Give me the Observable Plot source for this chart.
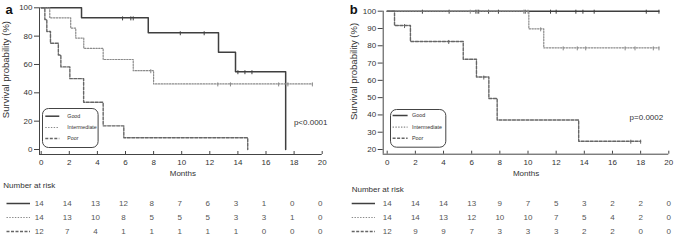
<!DOCTYPE html>
<html><head><meta charset="utf-8">
<script src="https://cdn.jsdelivr.net/npm/d3@7"></script>
<script src="https://cdn.jsdelivr.net/npm/@observablehq/plot@0.6"></script>
<style>
body{margin:0;background:#fff;font-family:"Liberation Sans",Arial,sans-serif;}
#root{position:relative;width:676px;height:245px;overflow:hidden;background:#fff;}
.abs{position:absolute;}
.nar{position:absolute;font-size:8px;color:#333;line-height:8px;white-space:nowrap;}
</style></head><body><div id="root"></div>
<script>
// ---------- data ----------
const groups = ["Good", "Intermediate", "Poor"];
const monthTicks = [0, 2, 4, 6, 8, 10, 12, 14, 16, 18, 20];
const survTicksA = [0, 20, 40, 60, 80, 100];
const survTicksB = [20, 30, 40, 50, 60, 70, 80, 90, 100];

// Panel a
const goodTimesA = [0, 2.87, 7.62, 12.62, 13.83, 17.4];
const goodSurvA  = [100, 92.9, 82.4, 68.7, 54.9, 0];
const goodCensA  = [5.79, 6.38, 6.55, 9.9, 11.6, 14.0, 14.5, 15.0];
const intTimesA  = [0, 0.61, 2.1, 2.46, 3.03, 4.41, 6.55, 8.0, 19.3];
const intSurvA   = [100, 92.9, 85.7, 78.6, 71.4, 63.5, 55.6, 46.3, 46.3];
const intCensA   = [7.8, 12.57, 13.47, 16.9, 17.56, 19.3];
const poorTimesA = [0, 0.26, 0.4, 0.66, 1.22, 1.4, 2.04, 3.02, 4.41, 5.88, 14.7];
const poorSurvA  = [100, 91.7, 83.3, 75, 66.7, 58.3, 50, 33.3, 16.7, 8.3, 0];
const poorCensA  = [];
const riskGoodA  = [14, 14, 13, 12, 8, 7, 6, 3, 1, 0, 0];
const riskIntA   = [14, 13, 10, 8, 5, 5, 5, 3, 3, 1, 0];
const riskPoorA  = [12, 7, 4, 1, 1, 1, 1, 1, 0, 0, 0];
const pTextA = "p<0.0001";

// Panel b
const goodTimesB = [0, 19.3];
const goodSurvB  = [100, 100];
const goodCensB  = [2.5, 4.4, 6.3, 6.5, 7.2, 7.9, 9.8, 11.6, 12.0, 13.4, 13.9, 14.7, 18.4, 19.3];
const intTimesB  = [0, 10.06, 11.12, 19.3];
const intSurvB   = [100, 89.8, 78.8, 78.8];
const intCensB   = [5.9, 6.4, 9.7, 10.0, 10.9, 12.5, 13.5, 14.1, 16.9, 17.6, 18.9, 19.3];
const poorTimesB = [0, 0.52, 1.65, 5.4, 6.34, 7.22, 7.81, 13.6, 18.0];
const poorSurvB  = [100, 91.7, 82.5, 72.2, 61.9, 49.5, 37.1, 24.8, 24.8];
const poorCensB  = [1.23, 4.37, 6.86, 17.3, 18.0];
const riskGoodB  = [14, 14, 14, 13, 9, 7, 5, 3, 2, 2, 0];
const riskIntB   = [14, 14, 13, 12, 10, 10, 7, 5, 4, 2, 0];
const riskPoorB  = [12, 9, 9, 7, 3, 3, 3, 2, 2, 0, 0];
const pTextB = "p=0.0002";

const xTitle = "Months";
const yTitle = "Survival probability (%)";
const riskTitle = "Number at risk";

// ---------- styles ----------
const styles = {
  Good: {stroke: "#3f3f3f", strokeWidth: 1.5},
  Intermediate: {stroke: "#8a8a8a", strokeWidth: 1.2, strokeDasharray: "1.4,1.4"},
  Poor: {stroke: "#666", strokeWidth: 1.4, strokeDasharray: "3,1.5"}
};
const censorSymbol = {draw(ctx) { ctx.moveTo(0, -1.5); ctx.lineTo(0, 2.5); }};

const root = document.getElementById("root");

function stepValue(times, surv, t) {
  let s = surv[0];
  for (let i = 0; i < times.length; i++) if (times[i] <= t) s = surv[i];
  return s;
}

function kmPanel(cfg) {
  const marks = [];
  marks.push(Plot.ruleY([cfg.yMin], {dy: cfg.insetB, stroke: "#444", strokeWidth: 1}));
  marks.push(Plot.ruleX([0], {dx: -cfg.insetL, stroke: "#444", strokeWidth: 1}));
  const innerH = cfg.height - cfg.marginTop - cfg.marginBottom;
  marks.push(Plot.ruleX(monthTicks, {insetTop: innerH - 3, stroke: "#444", strokeWidth: 1}));
  marks.push(Plot.axisX({ticks: monthTicks, tickSize: 0, tickPadding: 5, label: null, fontSize: 8}));
  marks.push(Plot.axisY({ticks: cfg.yTicks, tickSize: 5, tickPadding: 2, label: null, fontSize: 8, stroke: "#444"}));
  groups.forEach((g, k) => {
    const st = styles[g];
    const T = cfg.times[k], S = cfg.surv[k];
    const pts = T.map((t, i) => ({t, s: S[i]}));
    marks.push(Plot.line(pts, {x: "t", y: "s", curve: "step-after", ...st}));
    const cens = cfg.cens[k].map(t => ({t, s: stepValue(T, S, t)}));
    marks.push(Plot.dot(cens, {x: "t", y: "s", symbol: censorSymbol, r: 2, fill: "none", stroke: st.stroke, strokeWidth: 1}));
  });
  marks.push(Plot.text([xTitle], {frameAnchor: "bottom", lineAnchor: "middle", dx: cfg.xtDx, dy: cfg.xtDy, fontSize: 8, fill: "#333"}));
  marks.push(Plot.text([yTitle], {frameAnchor: "left", rotate: -90, textAnchor: "middle", lineAnchor: "middle", dx: cfg.ytDx, dy: cfg.ytDy, fontSize: 9.5, fill: "#333"}));
  marks.push(Plot.text([cfg.p], {frameAnchor: "right", textAnchor: "end", lineAnchor: "middle", dx: cfg.pDx, dy: cfg.pDy, fontSize: 8, fill: "#333"}));
  marks.push(Plot.text([cfg.letter], {frameAnchor: "top-left", textAnchor: "start", lineAnchor: "middle", dx: cfg.lDx, dy: cfg.lDy, fontSize: 13, fontWeight: "bold", fill: "#111"}));
  const svg = Plot.plot({
    width: cfg.width, height: cfg.height,
    marginLeft: cfg.marginLeft, marginRight: cfg.marginRight,
    marginTop: cfg.marginTop, marginBottom: cfg.marginBottom,
    x: {domain: [0, 20], insetLeft: cfg.insetL},
    y: {domain: [cfg.yMin, 100], insetBottom: cfg.insetB},
    style: {fontFamily: '"Liberation Sans", Arial, sans-serif', fontSize: "8px", color: "#333", background: "transparent", overflow: "visible"},
    marks
  });
  svg.classList.add("abs");
  svg.style.left = cfg.left + "px";
  svg.style.top = "0px";
  root.appendChild(svg);
}

function riskPanel(cfg) {
  const rows = [];
  groups.forEach((g, k) => cfg.risk[k].forEach((n, i) => rows.push({g, t: monthTicks[i], n})));
  const marks = [];
  groups.forEach(g => {
    marks.push(Plot.ruleY([g], {y: d => d, x1: 0, x2: 0, insetLeft: cfg.symL, insetRight: cfg.symR, ...styles[g]}));
  });
  marks.push(Plot.text(rows, {x: "t", y: "g", text: d => String(d.n), dx: cfg.numDx, fontSize: 8, fill: "#555"}));
  const svg = Plot.plot({
    width: cfg.width, height: 65,
    marginLeft: cfg.marginLeft, marginRight: cfg.marginRight, marginTop: 0, marginBottom: 0,
    x: {domain: [0, 20], insetLeft: cfg.insetL, axis: null},
    y: {type: "point", domain: groups, range: [22.3, 52], padding: 0, axis: null},
    style: {fontFamily: '"Liberation Sans", Arial, sans-serif', fontSize: "8px", color: "#333", background: "transparent", overflow: "visible"},
    marks
  });
  svg.classList.add("abs");
  svg.style.left = cfg.left + "px";
  svg.style.top = "180px";
  root.appendChild(svg);
  const d = document.createElement("div");
  d.className = "nar";
  d.textContent = riskTitle;
  d.style.left = (cfg.left + cfg.titleX) + "px";
  d.style.top = (cfg.titleY - 4) + "px";
  root.appendChild(d);
}

function legend(cfg) {
  const svg = d3.select(root).append("svg").attr("class", "abs")
    .style("left", cfg.left + "px").style("top", cfg.top + "px")
    .attr("width", cfg.w + 2).attr("height", cfg.h + 2);
  svg.append("rect").attr("x", 0.5).attr("y", 0.5).attr("width", cfg.w).attr("height", cfg.h)
    .attr("rx", 6).attr("fill", "white").attr("stroke", "#444").attr("stroke-width", 1);
  groups.forEach((g, i) => {
    const st = styles[g];
    svg.append("line").attr("x1", cfg.sx1).attr("x2", cfg.sx2).attr("y1", cfg.rows[i]).attr("y2", cfg.rows[i])
      .attr("stroke", st.stroke).attr("stroke-width", st.strokeWidth).attr("stroke-dasharray", st.strokeDasharray || null);
    svg.append("text").attr("x", cfg.tx).attr("y", cfg.rows[i]).attr("dy", "0.35em")
      .attr("font-size", cfg.fs).attr("fill", "#333").attr("font-family", '"Liberation Sans", Arial, sans-serif').text(g);
  });
}

kmPanel({
  left: 0, width: 340, height: 180, marginLeft: 39, marginRight: 18.3, marginTop: 7.3, marginBottom: 26,
  insetL: 1.7, insetB: 5, yMin: 0, yTicks: survTicksA,
  times: [goodTimesA, intTimesA, poorTimesA], surv: [goodSurvA, intSurvA, poorSurvA], cens: [goodCensA, intCensA, poorCensA],
  p: pTextA, letter: "a",
  xtDx: 2, xtDy: 19, ytDx: -34, ytDy: -11.6, pDx: 5.3, pDy: 41, lDx: -34, lDy: 1.7
});
kmPanel({
  left: 340, width: 336, height: 180, marginLeft: 42.7, marginRight: 7.7, marginTop: 10.7, marginBottom: 26.3,
  insetL: 4, insetB: 4.7, yMin: 20, yTicks: survTicksB,
  times: [goodTimesB, intTimesB, poorTimesB], surv: [goodSurvB, intSurvB, poorSurvB], cens: [goodCensB, intCensB, poorCensB],
  p: pTextB, letter: "b",
  xtDx: 0, xtDy: 19.6, ytDx: -29.7, ytDy: -11.2, pDx: -5.6, pDy: 34.5, lDx: -33.4, lDy: -1.2
});
riskPanel({left: 0, width: 340, marginLeft: 39, marginRight: 18.3, insetL: 1.7,
  risk: [riskGoodA, riskIntA, riskPoorA], symL: -34.2, symR: 10.7, numDx: -2, titleX: 3.3, titleY: 185.7});
riskPanel({left: 340, width: 336, marginLeft: 42.7, marginRight: 7.7, insetL: 4,
  risk: [riskGoodB, riskIntB, riskPoorB], symL: -35, symR: 11.7, numDx: 0, titleX: 11.7, titleY: 190});
legend({left: 42.2, top: 107.5, w: 55.6, h: 39, sx1: 3.3, sx2: 17.3, tx: 25.3, rows: [8.2, 19.5, 30.5], fs: 5.3});
legend({left: 390.2, top: 108.5, w: 55.3, h: 37.7, sx1: 2.6, sx2: 17.6, tx: 22, rows: [6.5, 18.2, 29.2], fs: 5.4});
</script></body></html>
